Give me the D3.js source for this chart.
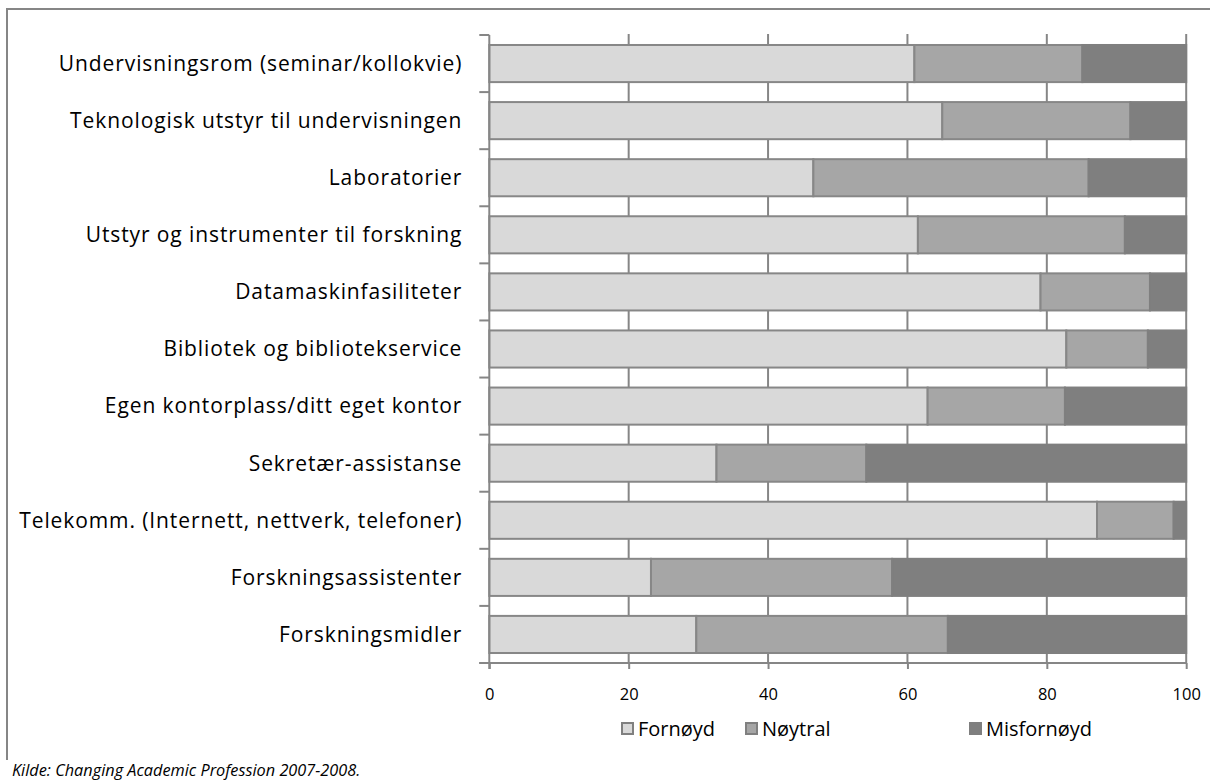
<!DOCTYPE html>
<html>
<head>
<meta charset="utf-8">
<script src="https://cdn.jsdelivr.net/npm/d3@7"></script>
<style>
  html, body { margin: 0; padding: 0; background: #fff; }
  svg { display: block; }
</style>
</head>
<body>
<svg id="chart" width="1210" height="780"></svg>
<script>
// Satisfaction with facilities and resources (percent of respondents)
const categories = [
  "Undervisningsrom (seminar/kollokvie)",
  "Teknologisk utstyr til undervisningen",
  "Laboratorier",
  "Utstyr og instrumenter til forskning",
  "Datamaskinfasiliteter",
  "Bibliotek og bibliotekservice",
  "Egen kontorplass/ditt eget kontor",
  "Sekretær-assistanse",
  "Telekomm. (Internett, nettverk, telefoner)",
  "Forskningsassistenter",
  "Forskningsmidler"
];
const fornoyd    = [61.0, 65.0, 46.5, 61.5, 79.1, 82.8, 62.9, 32.6, 87.2, 23.2, 29.7];
const noytral    = [24.1, 27.0, 39.5, 29.7, 15.7, 11.7, 19.7, 21.5, 11.0, 34.6, 36.1];
const misfornoyd = [14.9,  8.0, 14.0,  8.8,  5.2,  5.5, 17.4, 45.9,  1.8, 42.2, 34.2];
const seriesNames = ["Fornøyd", "Nøytral", "Misfornøyd"];
const xTicks = [0, 20, 40, 60, 80, 100];
const source = "Kilde: Changing Academic Profession 2007-2008.";

const colors = ["#d9d9d9", "#a6a6a6", "#7f7f7f"];
const strokes = ["#878787", "#878787", "#7f7f7f"];
const lineColor = "#868686";
const font = "'Open Sans', sans-serif";

const svg = d3.select("#chart");

// outer frame: top and left edges (the box runs past the page edge)
svg.append("line")
  .attr("x1", 6).attr("x2", 1210).attr("y1", 9).attr("y2", 9)
  .attr("stroke", lineColor).attr("stroke-width", 2);
svg.append("line")
  .attr("x1", 7).attr("x2", 7).attr("y1", 8).attr("y2", 760)
  .attr("stroke", lineColor).attr("stroke-width", 2);

const plot = { left: 489.3, right: 1186.2, top: 35, bottom: 663 };

const x = d3.scaleLinear().domain([0, 100]).range([plot.left, plot.right]);
const y = d3.scaleBand().domain(categories).range([plot.top, plot.bottom])
  .paddingInner(0.35).paddingOuter(0.175);

// stacked data
const rows = categories.map((c, i) => ({ cat: c, Fornøyd: fornoyd[i], Nøytral: noytral[i], Misfornøyd: misfornoyd[i] }));
const stacked = d3.stack().keys(seriesNames)(rows);

// vertical gridlines
svg.append("g").selectAll("line")
  .data(xTicks.filter(t => t > 0))
  .join("line")
  .attr("x1", d => x(d)).attr("x2", d => x(d))
  .attr("y1", plot.top - 1).attr("y2", plot.bottom)
  .attr("stroke", lineColor).attr("stroke-width", 2);

// bars
svg.append("g").selectAll("g")
  .data(stacked)
  .join("g")
  .attr("fill", (d, i) => colors[i])
  .attr("stroke", (d, i) => strokes[i])
  .attr("stroke-width", 2)
  .selectAll("rect")
  .data(d => d)
  .join("rect")
  .attr("x", d => x(d[0]))
  .attr("width", d => x(d[1]) - x(d[0]))
  .attr("y", d => y(d.data.cat))
  .attr("height", y.bandwidth());

// x axis
const xAxis = svg.append("g")
  .attr("transform", `translate(0,${plot.bottom})`)
  .call(d3.axisBottom(x).tickValues(xTicks).tickSize(6).tickSizeOuter(0));
xAxis.select(".domain").attr("stroke", lineColor).attr("stroke-width", 2)
  .attr("d", `M${plot.left - 10},0H${plot.right}`);
xAxis.selectAll(".tick line").attr("stroke", lineColor).attr("stroke-width", 2);
xAxis.selectAll(".tick text")
  .attr("y", 31).attr("dy", "0.35em")
  .attr("fill", "#000")
  .style("font-family", font).style("font-size", "16.5px");

// y axis: line, boundary ticks, category labels
const yAxis = svg.append("g");
yAxis.append("line")
  .attr("x1", plot.left).attr("x2", plot.left)
  .attr("y1", plot.top).attr("y2", plot.bottom + 6)
  .attr("stroke", lineColor).attr("stroke-width", 2);
yAxis.selectAll("line.btick")
  .data(d3.range(categories.length + 1))
  .join("line")
  .attr("class", "btick")
  .attr("x1", plot.left - 10).attr("x2", plot.left)
  .attr("y1", i => plot.top + i * y.step())
  .attr("y2", i => plot.top + i * y.step())
  .attr("stroke", lineColor).attr("stroke-width", 2);
yAxis.selectAll("text")
  .data(categories)
  .join("text")
  .attr("x", plot.left - 27)
  .attr("y", d => y(d) + y.bandwidth() / 2)
  .attr("dy", "0.35em")
  .attr("text-anchor", "end")
  .attr("fill", "#000")
  .style("font-family", font).style("font-size", "21px")
  .style("letter-spacing", "0.9px")
  .text(d => d);

// legend
const legendX = [621, 745, 969];
const legend = svg.append("g").selectAll("g")
  .data(seriesNames)
  .join("g")
  .attr("transform", (d, i) => `translate(${legendX[i]},722)`);
legend.append("rect")
  .attr("x", 1).attr("y", 1).attr("width", 11).attr("height", 11)
  .attr("fill", (d, i) => colors[i])
  .attr("stroke", (d, i) => i === 2 ? colors[2] : "#808080")
  .attr("stroke-width", 2);
legend.append("text")
  .attr("x", 17).attr("y", 7).attr("dy", "0.35em")
  .attr("fill", "#000")
  .style("font-family", font).style("font-size", "20px")
  .text(d => d);

// source note
svg.append("text")
  .attr("x", 12).attr("y", 776)
  .attr("fill", "#000")
  .style("font-family", font)
  .style("font-style", "italic").style("font-size", "16.3px")
  .text(source);
</script>
</body>
</html>
